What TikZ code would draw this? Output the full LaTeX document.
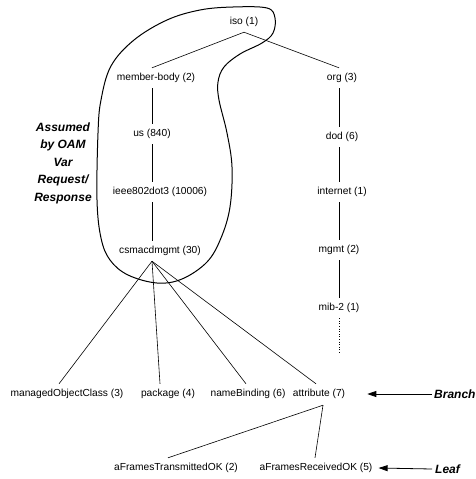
\documentclass[tikz,border=0pt]{standalone}
\usepackage{fontspec}
\setmainfont{Liberation Sans}
\usetikzlibrary{arrows.meta}
\begin{document}
\begin{tikzpicture}[x=1pt,y=-1pt,
  lbl/.style={font=\fontsize{10.2}{12}\selectfont, inner xsep=1pt, inner ysep=0pt,
              text height=7.4pt, text depth=2.2pt, minimum height=20pt},
  edge/.style={line width=0.6pt},
  lasso/.style={line width=1pt},
  tag/.style={font=\fontsize{12}{17.5}\selectfont\bfseries\itshape, inner sep=0pt, align=center},
  pointer/.style={line width=0.8pt, -{Triangle[length=9pt,width=6pt]}}
]
\useasboundingbox (0,0) rectangle (475,479);
\fill[white] (0,0) rectangle (475,479);

% column guides for the vertical branches
\coordinate (colL) at (152,0);
\coordinate (colR) at (339,0);

% iso subtree, member-body side
\node[lbl] (iso)  at (244,22)  {iso (1)};
\node[lbl] (mb)   at (156,78)  {member-body (2)};
\node[lbl] (us)   at (152,134) {us (840)};
\node[lbl] (ieee) at (160,192) {ieee802dot3 (10006)};
\node[lbl] (cs)   at (160,251) {csmacdmgmt (30)};

% org side
\node[lbl] (org)  at (342,78)  {org (3)};
\node[lbl] (dod)  at (342,137) {dod (6)};
\node[lbl] (inet) at (342,192) {internet (1)};
\node[lbl] (mgmt) at (339,250) {mgmt (2)};
\node[lbl] (mib)  at (339,308) {mib-2 (1)};
\coordinate (mibend) at (339,353);

% csmacdmgmt children
\node[lbl] (moc)  at (67,394)  {managedObjectClass (3)};
\node[lbl] (pkg)  at (168,394) {package (4)};
\node[lbl] (nb)   at (248,394) {nameBinding (6)};
\node[lbl] (attr) at (319,394) {attribute (7)};

% attribute leaves
\node[lbl] (aft)  at (176,468) {aFramesTransmittedOK (2)};
\node[lbl] (afr)  at (316,468) {aFramesReceivedOK (5)};

% side labels
\node[tag] (assumed) at (63,163) {Assumed\\by OAM\\Var\\Request/\\Response};
\node[tag, anchor=west] (branch) at (434,394) {Branch};
\node[tag, anchor=west] (leaf)   at (435,469) {Leaf};

% tree edges
\draw[edge] (iso.south) -- (mb.north -| colL);
\draw[edge] (iso.south) -- (org.north -| colR);
\draw[edge] (mb.south -| colL)   -- (us.north -| colL);
\draw[edge] (us.south -| colL)   -- (ieee.north -| colL);
\draw[edge] (ieee.south -| colL) -- (cs.north -| colL);
\draw[edge] (org.south -| colR)  -- (dod.north -| colR);
\draw[edge] (dod.south -| colR)  -- (inet.north -| colR);
\draw[edge] (inet.south -| colR) -- (mgmt.north -| colR);
\draw[edge] (mgmt.south -| colR) -- (mib.north -| colR);
\draw[edge, dotted] (mib.south -| colR) -- (mibend);

\draw[edge] (cs.south -| colL) -- ([xshift=-8pt]moc.north);
\draw[edge] (cs.south -| colL) -- ([xshift=-8pt]pkg.north);
\draw[edge] (cs.south -| colL) -- ([xshift=-2pt]nb.north);
\draw[edge] (cs.south -| colL) -- ([xshift=-3pt]attr.north);

\draw[edge] ([xshift=4pt,yshift=-1pt]attr.south) -- ([xshift=-8pt]aft.north);
\draw[edge] ([xshift=4pt,yshift=-1pt]attr.south) -- ([xshift=-1pt]afr.north);

% pointers
\draw[pointer] ([xshift=-2pt]branch.west) -- ([xshift=21pt]attr.east);
\draw[pointer] ([xshift=-3pt]leaf.west) -- ([xshift=5pt]afr.east);

% enclosure around the assumed subtree
\draw[lasso] plot[smooth cycle, tension=0.6] coordinates {
  (233,7) (267,8) (275,18) (273,33) (262,43) (240,54) (224,67) (218,82)
  (219,100) (227,133) (232,167) (230,207) (221,238) (207,262) (182,279)
  (157,283) (128,275) (110,260) (101,238) (97,200) (98,133) (101,100)
  (111,66) (134,40) (167,20) (200,10)};
\end{tikzpicture}
\end{document}
